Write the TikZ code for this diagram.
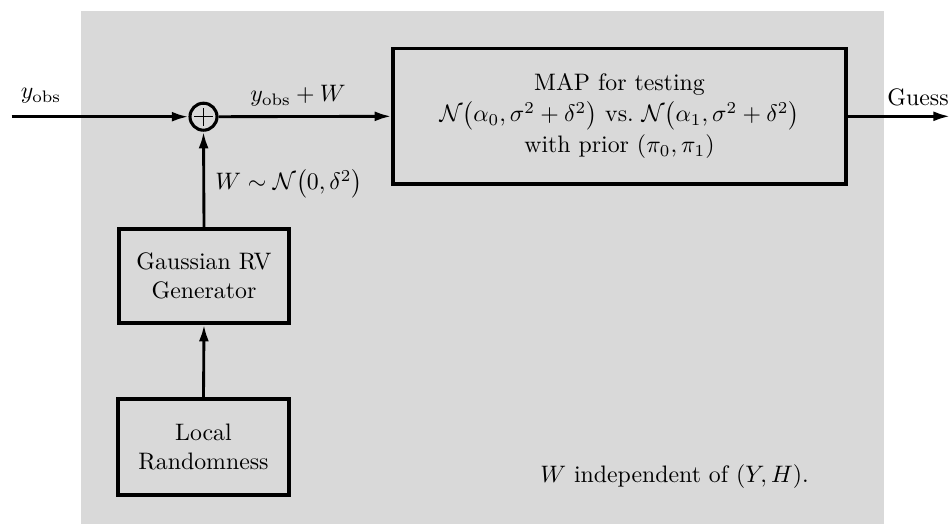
\documentclass[tikz,border=0pt]{standalone}
\usetikzlibrary{arrows.meta}
\begin{document}
\begin{tikzpicture}[x=0.42pt,y=-0.42pt,
  box/.style={draw, line width=1.4pt, inner sep=0pt, align=center},
  conn/.style={line width=1.2pt, -{Latex[length=7pt,width=4.2pt]}},
  lbl/.style={inner sep=0pt}]
\useasboundingbox (0,0) rectangle (950,524);
\fill[gray!30] (81,11) rectangle (884,524);
\node[box, minimum width=453*0.42pt, minimum height=135.5*0.42pt] (map) at (619.5,116.3)
  {MAP for testing\\[1pt] $\mathcal{N}\bigl(\alpha_0,\sigma^2+\delta^2\bigr)$ vs.\ $\mathcal{N}\bigl(\alpha_1,\sigma^2+\delta^2\bigr)$\\[1pt] with prior $(\pi_0,\pi_1)$};
\node[box, minimum width=170*0.42pt, minimum height=94*0.42pt] (gen) at (204,276) {Gaussian RV\\Generator};
\node[box, minimum width=171*0.42pt, minimum height=96*0.42pt] (loc) at (203.5,447) {Local\\Randomness};
\node[draw, circle, line width=1.3pt, minimum size=27*0.42pt, inner sep=0pt] (sum) at (203.5,116.7) {};
\draw[line width=0.5pt] ([xshift=-3.8pt]sum.center) -- ([xshift=3.8pt]sum.center)
  ([yshift=-3.8pt]sum.center) -- ([yshift=3.8pt]sum.center);
\coordinate (in) at (11.7,116.7);
\coordinate (out) at (950,116.3);
\draw[conn] (in) -- (sum.west);
\draw[conn] (sum.east) -- (map.west);
\draw[conn] (map.east) -- (out);
\draw[conn] (gen.north) -- (sum.south);
\draw[conn] (loc.north) -- (gen.south);
\node[lbl] (ly) at (41,96) {$y_{\mathrm{obs}}$};
\node[lbl] (lyw) at (298,96) {$y_{\mathrm{obs}}+W$};
\node[lbl, anchor=west] (lw) at (215,184) {$W\sim\mathcal{N}\bigl(0,\delta^2\bigr)$};
\node[lbl] (lg) at (918,97) {Guess};
\node[lbl] (lind) at (674.5,477) {$W$ independent of $(Y,H)$.};
\end{tikzpicture}
\end{document}
